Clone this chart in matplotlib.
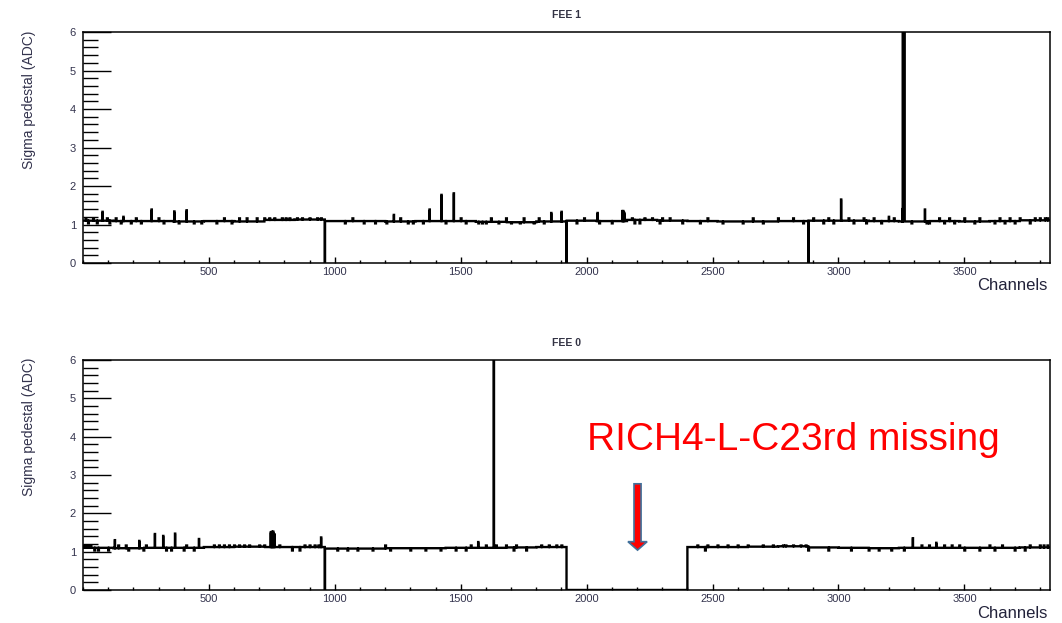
import numpy as np
import matplotlib
matplotlib.use("Agg")
import matplotlib.pyplot as plt
from matplotlib.patches import FancyArrow
from matplotlib.ticker import MultipleLocator

plt.rcParams['font.family'] = ['Liberation Sans', 'DejaVu Sans']

n_channels = 3840
block = 120

# ---- FEE 1 (top panel) ----
top_title = "FEE 1"
top_block_level = [1.10, 1.09, 1.09, 1.08, 1.09, 1.08, 1.12, 1.13,
                   1.09, 1.09, 1.08, 1.09, 1.09, 1.07, 1.06, 1.08,
                   1.10, 1.09, 1.12, 1.10, 1.09, 1.08, 1.08, 1.09,
                   1.10, 1.10, 1.09, 1.08, 1.09, 1.08, 1.09, 1.11]
top_dips = [20, 55, 105, 150, 190, 230, 320, 380, 440, 470, 530, 590, 1040,
            1115, 1160, 1205, 1290, 1310, 1350, 1440, 1520, 1570, 1585, 1600,
            1650, 1700, 1735, 1790, 1830, 1960, 2050, 2100, 2190, 2210, 2290,
            2380, 2450, 2540, 2620, 2700, 2860, 2940, 2980, 3060, 3110, 3170,
            3290, 3350, 3360, 3420, 3460, 3540, 3620, 3660, 3700, 3760]
top_bumps = [10, 40, 95, 130, 210, 300, 560, 620, 650, 690, 720, 740, 760,
             790, 805, 820, 850, 870, 900, 930, 945, 1070, 1260, 1500, 1620,
             1680, 1750, 1810, 1990, 2180, 2230, 2260, 2300, 2330, 2480, 2660,
             2760, 2820, 2900, 2960, 3040, 3100, 3140, 3220, 3400, 3440, 3500,
             3560, 3640, 3680, 3720, 3780, 3800, 3820, 3830]
top_spike_ch = [77, 160, 272, 362, 411, 1234, 1376, 1423, 1472, 1859, 1900,
                2043, 2141, 2145, 2149, 3010, 3200, 3253, 3343]
top_spike_val = [1.33, 1.20, 1.39, 1.34, 1.37, 1.25, 1.39, 1.77, 1.81, 1.30,
                 1.33, 1.30, 1.35, 1.35, 1.30, 1.65, 1.20, 1.40, 1.39]
top_hot_ch = [3255, 3256, 3257, 3258, 3259, 3260, 3261, 3262]
top_dead_ch = [960, 1920, 2880]

# ---- FEE 0 (bottom panel) ----
bot_title = "FEE 0"
bot_block_level = [1.10, 1.09, 1.10, 1.10, 1.12, 1.13, 1.12, 1.12,
                   1.08, 1.08, 1.09, 1.09, 1.10, 1.10, 1.11, 1.12,
                   0.00, 0.00, 0.00, 0.00, 1.12, 1.12, 1.13, 1.14,
                   1.11, 1.10, 1.09, 1.10, 1.10, 1.10, 1.10, 1.11]
bot_dips = [45, 60, 100, 180, 240, 330, 350, 400, 440, 830, 860, 1010, 1050,
            1090, 1150, 1220, 1300, 1360, 1420, 1480, 1520, 1710, 1760, 2470,
            2560, 2880, 2960, 3050, 3120, 3160, 3210, 3260, 3500, 3560, 3620,
            3700, 3740]
bot_bumps = [5, 10, 15, 20, 25, 30, 140, 170, 250, 410, 520, 540, 560, 580,
             600, 620, 640, 660, 700, 720, 780, 880, 900, 920, 935, 1200,
             1540, 1600, 1640, 1680, 1720, 1820, 1850, 1880, 1900, 2440, 2480,
             2520, 2560, 2600, 2640, 2700, 2740, 2780, 2790, 2820, 2850, 2870,
             3330, 3360, 3420, 3450, 3480, 3600, 3650, 3760, 3800, 3815, 3830]
bot_spike_ch = [126, 223, 285, 318, 365, 460, 745, 750, 755, 760, 945, 1569,
                3295, 3388]
bot_spike_val = [1.30, 1.28, 1.46, 1.41, 1.47, 1.33, 1.50, 1.52, 1.52, 1.45,
                 1.37, 1.25, 1.35, 1.23]
bot_hot_ch = [1631]
bot_dead_ch = [960]


def build(levels, dips, bumps, spike_ch, spike_val, hot_ch, dead_ch):
    vals = np.repeat(levels, block).astype(float)
    for c in dips:
        if vals[c] > 0:
            vals[c:c + 3] = 1.03
    for c in bumps:
        if vals[c] > 0:
            vals[c:c + 3] = 1.16
    for c, v in zip(spike_ch, spike_val):
        vals[c] = v
    for c in hot_ch:
        vals[c] = 8.0
    for c in dead_ch:
        vals[c] = 0.0
    return vals


def draw(ax, vals, title):
    edges = np.arange(n_channels + 1)
    ax.stairs(vals, edges, baseline=None, color='black', lw=1.7)
    ax.set_xlim(0, n_channels)
    ax.set_ylim(0, 6)
    ax.xaxis.set_major_locator(MultipleLocator(500))
    ax.xaxis.set_minor_locator(MultipleLocator(100))
    ax.yaxis.set_major_locator(MultipleLocator(1))
    ax.yaxis.set_minor_locator(MultipleLocator(0.2))
    ax.tick_params(axis='x', which='major', direction='in', length=4.5,
                   width=1, labelsize=8, pad=3, labelcolor='#33334d',
                   top=False)
    ax.tick_params(axis='x', which='minor', direction='in', length=2.2,
                   width=1, top=False)
    ax.tick_params(axis='y', which='major', direction='in', length=20.5,
                   width=1, labelsize=8, pad=5, labelcolor='#33334d',
                   right=False)
    ax.tick_params(axis='y', which='minor', direction='in', length=10.5,
                   width=1, right=False)
    xt = [t for t in ax.get_xticks() if 0 < t < n_channels]
    ax.set_xticks(xt)
    ax.set_xticklabels([str(int(t)) for t in xt])
    for s in ax.spines.values():
        s.set_linewidth(1.1)
    ax.set_title(title, fontsize=7.5, fontweight='bold', color='#333344',
                 pad=10)


fig = plt.figure(figsize=(10.62, 6.23), dpi=100)
ax_top = fig.add_axes([0.0782, 0.5778, 0.9105, 0.3708])
ax_bot = fig.add_axes([0.0782, 0.0530, 0.9105, 0.3692])

top_vals = build(top_block_level, top_dips, top_bumps, top_spike_ch,
                 top_spike_val, top_hot_ch, top_dead_ch)
bot_vals = build(bot_block_level, bot_dips, bot_bumps, bot_spike_ch,
                 bot_spike_val, bot_hot_ch, bot_dead_ch)

draw(ax_top, top_vals, top_title)
draw(ax_bot, bot_vals, bot_title)

# axis labels, ROOT style
W, H = 1062, 623
for y_top, y_ch in [(31, 285), (358, 613)]:
    fig.text(29.5 / W, 1 - y_top / H, "Sigma pedestal (ADC)", rotation=90,
             ha='center', va='top', fontsize=10, color='#33334d')
    fig.text(1048 / W, 1 - y_ch / H, "Channels", ha='right', va='center',
             fontsize=12, color='#22223a')

# annotation
fig.text(587 / W, 1 - 450 / H, "RICH4-L-C23rd missing", ha='left',
         va='baseline', fontsize=28, color='#ff0000')
arrow = FancyArrow(2202, 2.77, 0, -1.73, width=28, head_width=76,
                   head_length=0.22, length_includes_head=True,
                   facecolor='#ff0000', edgecolor='#41719c', lw=1.2,
                   zorder=5)
ax_bot.add_patch(arrow)

fig.savefig("out.png", dpi=100)
